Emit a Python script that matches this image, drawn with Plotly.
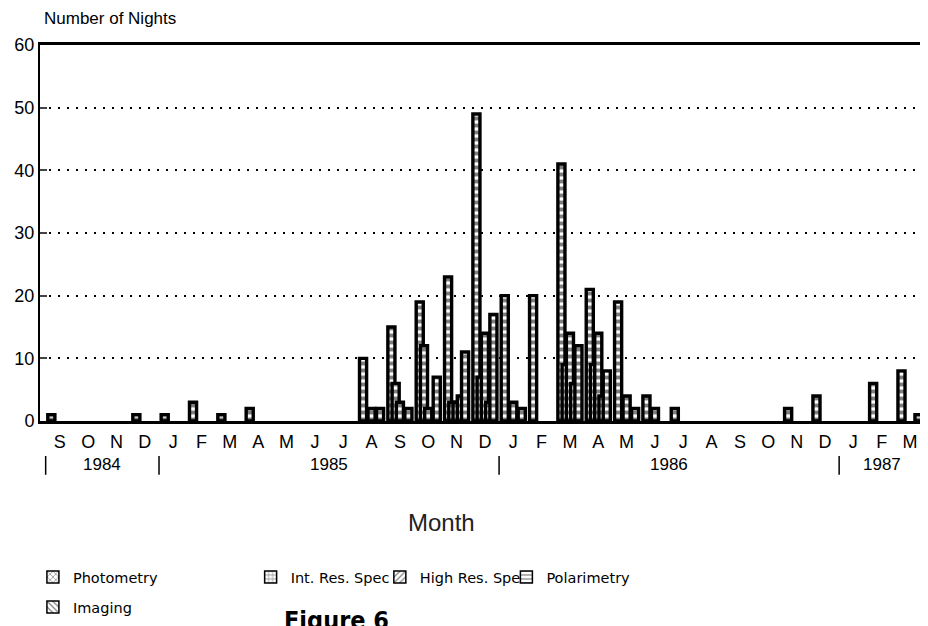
# plot.py
# nights per month by instrument, Sep 1984 - Mar 1987

import plotly.graph_objects as go

months = ["S", "O", "N", "D",
          "J", "F", "M", "A", "M", "J", "J", "A", "S", "O", "N", "D",
          "J", "F", "M", "A", "M", "J", "J", "A", "S", "O", "N", "D",
          "J", "F", "M"]
month_years = [1984] * 4 + [1985] * 12 + [1986] * 12 + [1987] * 3

photometry = [1, 0, 0, 1, 1, 3, 1, 2, 0, 0, 0, 10, 15, 19, 23, 49,
              20, 20, 41, 21, 19, 4, 2, 0, 0, 0, 2, 4, 0, 6, 8]
int_res = [0, 0, 0, 0, 0, 0, 0, 0, 0, 0, 0, 0, 6, 12, 3, 7,
           0, 0, 9, 9, 0, 0, 0, 0, 0, 0, 0, 0, 0, 0, 0]
high_res = [0, 0, 0, 0, 0, 0, 0, 0, 0, 0, 0, 2, 3, 2, 3, 14,
            3, 0, 14, 14, 4, 2, 0, 0, 0, 0, 0, 0, 0, 0, 0]
polarimetry = [0, 0, 0, 0, 0, 0, 0, 0, 0, 0, 0, 0, 0, 0, 4, 3,
               0, 0, 6, 4, 0, 0, 0, 0, 0, 0, 0, 0, 0, 0, 0]
imaging = [0, 0, 0, 0, 0, 0, 0, 0, 0, 0, 0, 2, 2, 7, 11, 17,
           2, 0, 12, 8, 2, 0, 0, 0, 0, 0, 0, 0, 0, 0, 1]

series = [
    ("Photometry", photometry, "x"),
    ("Int. Res. Spec", int_res, "+"),
    ("High Res. Spe", high_res, "/"),
    ("Polarimetry", polarimetry, "-"),
    ("Imaging", imaging, "\\"),
]

FONT = "Liberation Sans"
xs = list(range(len(months)))

fig = go.Figure()

# the bars all print the same way in the scan: heavy black outline, white dashes
for k, (name, vals, shape) in enumerate(series):
    fig.add_trace(go.Bar(
        x=xs, y=[v if v else None for v in vals], name=name,
        width=0.25, offset=-0.425 + 0.15 * k,
        marker=dict(color="white", line=dict(color="black", width=3.4),
                    pattern=dict(shape="-", fgcolor="black", bgcolor="white",
                                 size=7, solidity=0.55)),
        showlegend=False,
    ))

# legend swatches with the hatch patterns, one small legend per entry
legend_pos = [(-0.008, -0.415), (0.238, -0.415), (0.384, -0.415),
              (0.527, -0.415), (-0.008, -0.495)]
legends = {}
for k, (name, vals, shape) in enumerate(series):
    lg = "legend" if k == 0 else f"legend{k + 1}"
    fig.add_trace(go.Bar(
        x=[None], y=[None], name=name, legend=lg,
        marker=dict(color="white", line=dict(color="black", width=1.5),
                    pattern=dict(shape=shape, fgcolor="black", bgcolor="white",
                                 size=5, solidity=0.3)),
    ))
    legends[lg] = dict(x=legend_pos[k][0], y=legend_pos[k][1],
                       xanchor="left", yanchor="middle",
                       bgcolor="rgba(0,0,0,0)",
                       font=dict(family="DejaVu Sans", size=14.5, color="black"))

fig.update_layout(**legends)

# year labels and separators under the month letters
years = sorted(set(month_years))
for yr in years:
    idx = [i for i, y in enumerate(month_years) if y == yr]
    fig.add_annotation(x=(idx[0] + idx[-1]) / 2, y=-0.117, xref="x", yref="paper",
                       xanchor="center", yanchor="middle",
                       text=str(yr), showarrow=False,
                       font=dict(family=FONT, size=17, color="black"))
bounds = [-0.5] + [i + 0.5 for i in range(len(month_years) - 1)
                   if month_years[i] != month_years[i + 1]] + [len(month_years) - 0.5]
for b in bounds:
    fig.add_shape(type="line", xref="x", yref="paper", x0=b, x1=b,
                  y0=-0.093, y1=-0.143, line=dict(color="black", width=1.5))

fig.add_annotation(x=0.002, y=1.0, xref="paper", yref="paper", xanchor="left",
                   yanchor="bottom", yshift=15, text="Number of Nights",
                   showarrow=False, font=dict(family=FONT, size=17, color="black"))
fig.add_annotation(x=0.454, y=-0.269, xref="paper", yref="paper",
                   xanchor="center", yanchor="middle",
                   text="Month", showarrow=False,
                   font=dict(family=FONT, size=24, color="#222"))
fig.add_annotation(x=0.335, y=-0.488, xref="paper", yref="paper",
                   xanchor="center", yanchor="top",
                   text="<b>Figure 6</b>", showarrow=False,
                   font=dict(family="DejaVu Sans Condensed, Liberation Sans",
                             size=25, color="black"))

# the page body adds an 8px margin, so the figure is 8px smaller than the window
fig.update_layout(
    width=920, height=618,
    margin=dict(l=32, r=3, t=37, b=205, autoexpand=False),
    paper_bgcolor="white", plot_bgcolor="white",
    barmode="overlay",
    font=dict(family=FONT, color="black"),
    xaxis=dict(range=[-0.7, 30.53], tickvals=xs, ticktext=months,
               tickfont=dict(size=18), ticks="outside", ticklen=2,
               tickcolor="rgba(0,0,0,0)", showgrid=False, zeroline=False,
               showline=True, linecolor="black", linewidth=3, mirror=True,
               automargin=False),
    yaxis=dict(range=[0, 60], tickvals=list(range(0, 61, 10)),
               tickfont=dict(size=18), ticks="inside", ticklen=7, tickwidth=2,
               showgrid=True, gridcolor="black", griddash="2px,7px", gridwidth=2,
               zeroline=False, showline=True, linecolor="black", linewidth=2,
               mirror=True, automargin=False),
)

fig.write_html("out.html")
